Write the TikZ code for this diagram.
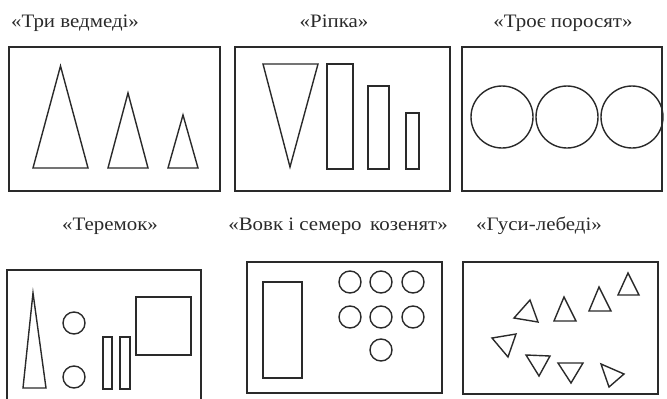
\documentclass[tikz,border=0pt]{standalone}
\usepackage{fontspec}
\setmainfont{Liberation Serif}
\newfontfamily\titlefont[FakeStretch=1.1]{Liberation Serif}
\usetikzlibrary{positioning}
\definecolor{cink}{HTML}{2A2A2A}
\tikzset{
  every picture/.style={line width=1.1pt},
  frame/.style={draw=cink, line width=1.8pt},
  fig/.style={draw=cink, line width=1.4pt},
  title/.style={font=\titlefont\fontsize{19}{22}\selectfont, text=cink, inner sep=0pt, anchor=base},
}

\begin{document}
\begin{tikzpicture}[x=1pt, y=-1pt]
  \useasboundingbox (0,0) rectangle (667,399);
  % titles
  \node[title] (bears) at (75,27) {«Три ведмеді»};
  \node[title] (ripka) at (334,27) {«Ріпка»};
  \node[title] (pigs) at (563,27) {«Троє поросят»};
  \node[title] (teremok) at (110,230) {«Теремок»};
  \node[title] (wolf) at (338,230) {«Вовк і семеро\hspace{0.45em}козенят»};
  \node[title] (geese) at (539,230) {«Гуси-лебеді»};
  % frames
  \draw[frame] (9,47) rectangle (220,191);
  \draw[frame] (235,47) rectangle (450,191);
  \draw[frame] (462,47) rectangle (662,191);
  \draw[frame] (7,400) -- (7,270) -- (201,270) -- (201,400);
  \draw[frame] (247,262) rectangle (442,393);
  \draw[frame] (463,262) rectangle (658,394);
  % three bears
  \foreach \xa/\xb/\tp in {33/88/66, 108/148/93, 168/198/115}
    \draw[fig] (\xa,168) -- (\xb,168) -- ({(\xa+\xb)/2},\tp) -- cycle;
  % ripka
  \draw[fig] (263,64) -- (318,64) -- (290,167) -- cycle;
  \foreach \xa/\xb/\tp in {327/353/64, 368/389/86, 406/419/113}
    \draw[fig] (\xa,\tp) rectangle (\xb,169);
  % three piglets
  \foreach \x in {502,567,632}
    \draw[fig] (\x,117) circle[radius=31];
  % teremok
  \draw[fig] (23,388) -- (46,388) -- (33,293) -- cycle;
  \draw[fig] (74,323) circle[radius=11];
  \draw[fig] (74,377) circle[radius=11];
  \draw[fig] (103,337) rectangle (112,389);
  \draw[fig] (120,337) rectangle (130,389);
  \draw[fig] (136,297) rectangle (191,355);
  % wolf and kids
  \draw[fig] (263,282) rectangle (302,378);
  \foreach \x in {350,381,413}
    \foreach \y in {282,317}
      \draw[fig] (\x,\y) circle[radius=11];
  \draw[fig] (381,350) circle[radius=11];
  % geese
  \draw[fig] (514,318) -- (530,300) -- (538,322) -- cycle;
  \draw[fig] (554,321) -- (564,297) -- (576,321) -- cycle;
  \draw[fig] (589,311) -- (599,287) -- (611,311) -- cycle;
  \draw[fig] (618,295) -- (628,273) -- (639,295) -- cycle;
  \draw[fig] (492,338) -- (516,334) -- (508,357) -- cycle;
  \draw[fig] (526,355) -- (550,356) -- (539,376) -- cycle;
  \draw[fig] (558,363) -- (583,363) -- (571,383) -- cycle;
  \draw[fig] (601,364) -- (624,374) -- (609,387) -- cycle;
\end{tikzpicture}
\end{document}
